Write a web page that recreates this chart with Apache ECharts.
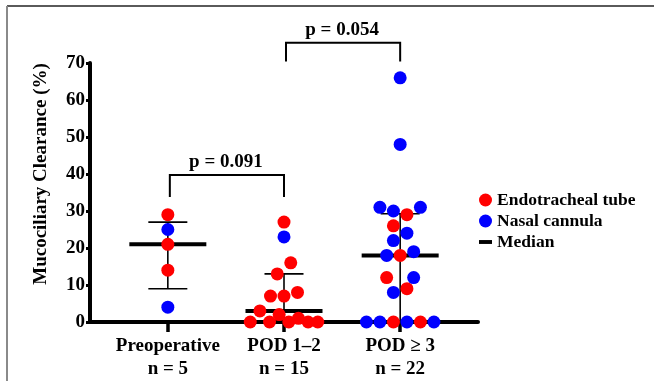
<!DOCTYPE html>
<html>
<head>
<meta charset="utf-8">
<script src="https://cdn.jsdelivr.net/npm/echarts@6/dist/echarts.min.js"></script>
<style>html,body{margin:0;padding:0;background:#fff;}#c{width:654px;height:381px;}</style>
</head>
<body>
<div id="c"></div>
<script>
// ---- data ----
const groupNames = ['Preoperative', 'POD 1\u20132', 'POD \u2265 3'];
const groupCounts = ['n = 5', 'n = 15', 'n = 22'];
const yTicks = [0, 10, 20, 30, 40, 50, 60, 70];

// values per group, listed row by row (left to right within a row)
const preopValues = [29, 25, 21, 14, 4];
const preopDevice = ['E', 'N', 'E', 'E', 'N'];
const pod12Values = [0, 3, 0, 2, 0, 1, 0, 0, 7, 7, 8, 13, 16, 23, 27];
const pod12Device = ['E', 'E', 'E', 'E', 'E', 'E', 'E', 'E', 'E', 'E', 'E', 'E', 'E', 'N', 'E'];
const pod3Values = [0, 0, 0, 0, 0, 0, 8, 9, 12, 12, 18, 18, 19, 22, 24, 26, 29, 31, 30, 31, 48, 66];
const pod3Device = ['N', 'N', 'E', 'N', 'E', 'N', 'N', 'E', 'E', 'N', 'N', 'E', 'N', 'N', 'N', 'E', 'E', 'N', 'N', 'N', 'N', 'N'];

const seriesNames = { E: 'Endotracheal tube', N: 'Nasal cannula' };
const pValues = ['p = 0.091', 'p = 0.054'];
const comparisons = [[1, 2], [2, 3]];

// ---- layout constants ----
const GRID = { left: 90, right: 176, top: 63, bottom: 59 };
const W = 654, H = 381;
const X_MIN = 0.33, X_MAX = 3.67, Y_MAX = 70;
const pxPerX = (W - GRID.left - GRID.right) / (X_MAX - X_MIN);
const pxPerY = (H - GRID.top - GRID.bottom) / Y_MAX;
const DOT = 13.5;          // dot spacing in px
const CLUSTER_H = 3.5;     // value range grouped into one row
const MAX_SPAN = 67.5;     // max centre-to-centre width of a row (px)
const FONT = '"Liberation Serif", "Times New Roman", serif';

// simple dot-plot (swarm) layout: returns pixel offsets per point
function swarm(values) {
  const idx = values.map((v, i) => i).sort((a, b) => values[a] - values[b]);
  const clusters = [];
  let cur = null;
  idx.forEach(i => {
    if (!cur || values[i] - cur.start > CLUSTER_H) { cur = { start: values[i], members: [] }; clusters.push(cur); }
    cur.members.push(i);
  });
  const offs = new Array(values.length).fill(0);
  const placed = [];
  clusters.forEach(cl => {
    const m = cl.members.slice().sort((a, b) => a - b);
    const n = m.length;
    const s = n > 1 ? Math.min(DOT, MAX_SPAN / (n - 1)) : DOT;
    let best = null;
    const gaps = n > 1 ? [0, s, 2 * s] : [0];
    const shifts = [0, -s / 2, s / 2, -s, s, -1.5 * s, 1.5 * s, -2 * s, 2 * s];
    gaps.forEach(g => shifts.forEach(sh => {
      const pos = m.map((_, k) => (k - (n - 1) / 2) * s + sh + (n > 1 ? (k < n / 2 ? -g / 2 : g / 2) : 0));
      let pen = 0;
      m.forEach((pi, k) => {
        placed.forEach(p => {
          const dx = pos[k] - p.x, dy = (values[pi] - p.v) * pxPerY;
          const dist = Math.sqrt(dx * dx + dy * dy);
          if (dist < 0.9 * DOT) pen += 0.9 * DOT - dist;
        });
      });
      const cost = pen * 100 + 2.5 * Math.abs(sh) + g;
      if (!best || cost < best.cost - 1e-9) best = { cost, pos };
    }));
    m.forEach((pi, k) => { offs[pi] = best.pos[k]; placed.push({ x: best.pos[k], v: values[pi] }); });
  });
  return offs;
}

function quantile(sorted, p) {
  const n = sorted.length;
  const pos = p * (n + 1);
  if (pos <= 1) return sorted[0];
  if (pos >= n) return sorted[n - 1];
  const lo = Math.floor(pos), fr = pos - lo;
  return sorted[lo - 1] + fr * (sorted[lo] - sorted[lo - 1]);
}

const groups = [
  { x: 1, values: preopValues, device: preopDevice },
  { x: 2, values: pod12Values, device: pod12Device },
  { x: 3, values: pod3Values, device: pod3Device }
];

const pts = { E: [], N: [] };
const stats = [];
groups.forEach(g => {
  const offs = swarm(g.values);
  g.values.forEach((v, i) => pts[g.device[i]].push([g.x + offs[i] / pxPerX, v]));
  const s = g.values.slice().sort((a, b) => a - b);
  stats.push([g.x, quantile(s, 0.25), quantile(s, 0.5), quantile(s, 0.75)]);
});

const chart = echarts.init(document.getElementById('c'), null, { renderer: 'canvas' });
const labelStyle = { color: '#000', fontFamily: FONT, fontWeight: 'bold', fontSize: 19 };

chart.setOption({
  animation: false,
  backgroundColor: '#fff',
  grid: GRID,
  xAxis: {
    type: 'value', min: X_MIN, max: X_MAX,
    splitLine: { show: false },
    axisLine: { show: true, onZero: false, lineStyle: { color: '#000', width: 4 } },
    axisTick: { show: true, customValues: [1, 2, 3], length: 10, lineStyle: { color: '#000', width: 3.5 } },
    axisLabel: Object.assign({
      customValues: [1, 2, 3], margin: 13, lineHeight: 23,
      formatter: v => { const i = Math.round(v) - 1; return groupNames[i] + '\n' + groupCounts[i]; }
    }, labelStyle)
  },
  yAxis: {
    type: 'value', min: yTicks[0], max: yTicks[yTicks.length - 1], interval: 10,
    splitLine: { show: false },
    axisLine: { show: true, lineStyle: { color: '#000', width: 4 } },
    axisTick: { show: true, length: 4, lineStyle: { color: '#000', width: 3 } },
    axisLabel: Object.assign({ margin: 5 }, labelStyle)
  },
  legend: {
    orient: 'vertical', left: 479, top: 191, padding: 0,
    itemWidth: 13, itemHeight: 13, itemGap: 3,
    textStyle: { color: '#000', fontFamily: FONT, fontWeight: 'bold', fontSize: 17.5, lineHeight: 17 },
    data: [
      { name: seriesNames.E, icon: 'circle' },
      { name: seriesNames.N, icon: 'circle' },
      { name: 'Median', icon: 'path://M0 0H12V3.6H0Z', itemStyle: { color: '#000' } }
    ]
  },
  graphic: [
    { type: 'line', shape: { x1: 7, y1: 6, x2: 654, y2: 6 }, style: { stroke: '#5a5a5a', lineWidth: 2 }, silent: true },
    { type: 'line', shape: { x1: 7, y1: 6, x2: 7, y2: 381 }, style: { stroke: '#8a8a8a', lineWidth: 2 }, silent: true },
    {
      type: 'text', x: 41, y: 174, rotation: Math.PI / 2,
      style: { text: 'Mucociliary Clearance (%)', fill: '#000', font: 'bold 19px ' + FONT, align: 'center', verticalAlign: 'middle' }
    }
  ],
  series: [
    {
      name: 'Median', type: 'custom', z: 2,
      itemStyle: { color: '#000' },
      encode: { x: 0, y: [1, 2, 3] },
      data: stats,
      renderItem: (params, api) => {
        const g = api.value(0);
        const p1 = api.coord([g, api.value(1)]);
        const pm = api.coord([g, api.value(2)]);
        const p3 = api.coord([g, api.value(3)]);
        const thin = { stroke: '#000', lineWidth: 1.6 };
        return {
          type: 'group', children: [
            { type: 'line', shape: { x1: p1[0], y1: p1[1], x2: p3[0], y2: p3[1] }, style: thin },
            { type: 'line', shape: { x1: p1[0] - 19.5, y1: p1[1], x2: p1[0] + 19.5, y2: p1[1] }, style: thin },
            { type: 'line', shape: { x1: p3[0] - 19.5, y1: p3[1], x2: p3[0] + 19.5, y2: p3[1] }, style: thin },
            { type: 'line', shape: { x1: pm[0] - 38.5, y1: pm[1], x2: pm[0] + 38.5, y2: pm[1] }, style: { stroke: '#000', lineWidth: 4 } }
          ]
        };
      }
    },
    {
      name: seriesNames.E, type: 'scatter', z: 5, symbol: 'circle', symbolSize: 13,
      itemStyle: { color: '#ff0000', opacity: 1 }, data: pts.E
    },
    {
      name: seriesNames.N, type: 'scatter', z: 5, symbol: 'circle', symbolSize: 13,
      itemStyle: { color: '#0000ff', opacity: 1 }, data: pts.N
    },
    {
      name: 'brackets', type: 'custom', z: 3, clip: false, silent: true,
      encode: { x: [0, 1], y: [2, 3] },
      data: comparisons.map((c, i) => [c[0], c[1], i === 0 ? 39.7 : 75.5, i === 0 ? 33.8 : 70.4, i]),
      renderItem: (params, api) => {
        const a = api.coord([api.value(0), api.value(2)]);
        const b = api.coord([api.value(1), api.value(2)]);
        const yb = api.coord([api.value(0), api.value(3)])[1];
        const i = api.value(4);
        const st = { stroke: '#000', lineWidth: 2 };
        return {
          type: 'group', children: [
            { type: 'polyline', shape: { points: [[a[0] + 2, yb], [a[0] + 2, a[1]], [b[0], b[1]], [b[0], yb]] }, style: Object.assign({ fill: null }, st) },
            { type: 'text', x: (a[0] + b[0]) / 2, y: a[1] - 13, style: { text: pValues[i], fill: '#000', font: 'bold 19px ' + FONT, align: 'center', verticalAlign: 'middle' } }
          ]
        };
      }
    }
  ]
});
</script>
</body>
</html>
